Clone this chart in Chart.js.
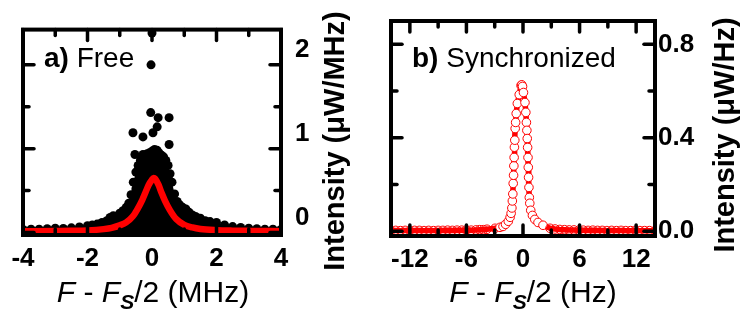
<!DOCTYPE html>
<html><head><meta charset="utf-8">
<script src="https://cdn.jsdelivr.net/npm/chart.js@4.4.1/dist/chart.umd.min.js"></script>
<style>
html,body{margin:0;padding:0;background:#fff;}
#wrap{position:relative;width:742px;height:322px;overflow:hidden;}
#c1{position:absolute;left:0;top:0;}
#c2{position:absolute;left:370px;top:0;}
</style></head>
<body><div id="wrap"><canvas id="c1" width="370" height="322"></canvas><canvas id="c2" width="372" height="322"></canvas></div>
<script>
// ---------- Panel a) Free ----------
const freeSpectrumX = [-4.0,-3.75,-3.5,-3.25,-3.0,-2.75,-2.5,-2.25,-2.0,-1.85,-1.7,-1.55,-1.4,-1.3,-1.2,-1.1,-1.0,-0.9,-0.8,-0.72,-0.65,-0.58,-0.5,-0.43,-0.36,-0.3,-0.22,-0.15,-0.08,0.0,0.08,0.15,0.22,0.3,0.36,0.43,0.5,0.56,0.62,0.7,0.78,0.86,0.95,1.05,1.15,1.25,1.35,1.5,1.65,1.8,2.0,2.25,2.5,2.75,3.0,3.25,3.5,3.75,4.0];
const freeSpectrumY = [0.035,0.04,0.038,0.045,0.05,0.048,0.055,0.065,0.08,0.09,0.1,0.12,0.14,0.18,0.2,0.19,0.23,0.26,0.3,0.35,0.45,0.6,0.72,0.8,0.86,0.9,0.92,0.94,0.95,0.97,0.99,0.97,0.95,0.92,0.9,0.86,0.8,0.7,0.6,0.46,0.37,0.33,0.3,0.28,0.24,0.21,0.19,0.17,0.14,0.13,0.12,0.09,0.07,0.06,0.05,0.045,0.04,0.04,0.035];
const freeOutlierX = [0.0,-0.03,-0.04,0.19,0.53,0.16,0.03,-0.59,-0.28,0.53,0.16,-0.53,-0.28,0.40,-0.43,0.50,-0.50,0.47];
const freeOutlierY = [2.38,2.0,1.43,1.37,1.37,1.26,1.19,1.19,1.14,1.05,0.98,0.93,0.93,0.81,0.74,0.66,0.52,0.52];
const freeFitX = [-4,-3,-2.5,-2,-1.5,-1.25,-1,-0.8,-0.6,-0.45,-0.3,-0.2,-0.1,0,0.05,0.1,0.2,0.3,0.4,0.55,0.75,1,1.25,1.5,2,2.5,3,4];
const freeFitY = [0.015,0.018,0.02,0.025,0.04,0.055,0.085,0.12,0.19,0.28,0.39,0.48,0.57,0.63,0.65,0.64,0.57,0.47,0.38,0.27,0.16,0.09,0.06,0.042,0.028,0.022,0.019,0.015];
const freeXTicks = [-4,-3,-2,-1,0,1,2,3,4];
const freeXLabels = [-4,-2,0,2,4];
const freeYTicks = [0,0.5,1,1.5,2];
const freeYLabels = [0,1,2];

// ---------- Panel b) Synchronized ----------
const syncX = [-14,-13.5,-13,-12.5,-12,-11.5,-11,-10.5,-10,-9.5,-9,-8.5,-8,-7.5,-7,-6.5,-6,-5.5,-5,-4.6,-4.2,-3.82,-2.97,-2.44,-2.12,-1.85,-1.56,-1.37,-1.26,-1.18,-1.13,-1.08,-1.04,-1.0,-0.97,-0.94,-0.91,-0.87,-0.83,-0.78,-0.72,-0.6,-0.4,-0.21,-0.13,-0.05,0.05,0.21,0.3,0.36,0.41,0.45,0.49,0.53,0.56,0.59,0.63,0.67,0.72,0.82,1.0,1.25,1.59,2.12,2.87,3.4,3.9,4.4,4.9,5.4,5.9,6.4,6.9,7.4,7.9,8.4,8.9,9.4,9.9,10.4,10.9,11.4,11.9,12.4,12.9,13.4,14];
const syncY = [0.003,0.004,0.003,0.004,0.003,0.004,0.004,0.003,0.004,0.003,0.004,0.004,0.005,0.004,0.005,0.005,0.006,0.005,0.006,0.007,0.007,0.009,0.013,0.017,0.021,0.03,0.043,0.06,0.077,0.1,0.13,0.16,0.205,0.24,0.28,0.316,0.36,0.39,0.44,0.466,0.504,0.547,0.585,0.624,0.627,0.62,0.594,0.551,0.509,0.466,0.432,0.397,0.359,0.316,0.274,0.231,0.188,0.145,0.12,0.09,0.068,0.051,0.038,0.026,0.013,0.01,0.008,0.007,0.006,0.006,0.005,0.005,0.004,0.005,0.004,0.004,0.003,0.004,0.003,0.004,0.003,0.003,0.004,0.003,0.003,0.003,0.003];
const syncXTicks = [-12,-9,-6,-3,0,3,6,9,12];
const syncXLabels = [-12,-6,0,6,12];
const syncYTicks = [0,0.2,0.4,0.6,0.8];
const syncYLabels = [0,0.4,0.8];

const FONT = "'Liberation Sans', Arial, sans-serif";
const toXY = (xs, ys) => xs.map((x, i) => ({x, y: ys[i]}));

// inward tick marks + frame
const frameTicks = {
  id: 'frameTicks',
  afterDatasetsDraw(chart, args, opts) {
    const {ctx, chartArea: a, scales} = chart;
    ctx.save();
    ctx.strokeStyle = '#000';
    ctx.lineWidth = 3.5;
    ctx.lineCap = 'round';
    const seg = (x1, y1, x2, y2) => { ctx.beginPath(); ctx.moveTo(x1, y1); ctx.lineTo(x2, y2); ctx.stroke(); };
    scales.x.ticks.forEach(t => {
      const p = scales.x.getPixelForValue(t.value);
      const L = opts.xMajor.includes(t.value) ? 11 : 6;
      seg(p, a.top, p, a.top + L); seg(p, a.bottom, p, a.bottom - L);
    });
    scales.y.ticks.forEach(t => {
      const p = scales.y.getPixelForValue(t.value);
      const L = opts.yMajor.includes(t.value) ? 11 : 6;
      seg(a.left, p, a.left + L, p); seg(a.right, p, a.right - L, p);
    });
    ctx.lineWidth = 4;
    ctx.lineCap = 'butt';
    ctx.strokeRect(a.left, a.top, a.right - a.left, a.bottom - a.top);
    ctx.restore();
  }
};

// titles / annotations with mixed styles
function drawRuns(ctx, runs, cx, base) {
  let total = 0;
  runs.forEach(r => { ctx.font = r.f; r.w = ctx.measureText(r.t).width; total += r.w; });
  let x = cx - total / 2;
  ctx.textAlign = 'left'; ctx.textBaseline = 'alphabetic';
  runs.forEach(r => { ctx.font = r.f; ctx.fillText(r.t, x, base + (r.dy || 0)); x += r.w; });
}
function drawLeftRuns(ctx, runs, x, base) {
  ctx.textAlign = 'left'; ctx.textBaseline = 'alphabetic';
  runs.forEach(r => { ctx.font = r.f; ctx.fillText(r.t, x, base); x += ctx.measureText(r.t).width; });
}
const textPlugin = {
  id: 'texts',
  afterDraw(chart, args, o) {
    const ctx = chart.ctx;
    ctx.save();
    ctx.fillStyle = '#000';
    const it = 'italic 30px ' + FONT, rg = '30px ' + FONT, sb = 'italic bold 21px ' + FONT;
    drawRuns(ctx, [{t: 'F', f: it}, {t: ' - ', f: rg}, {t: 'F', f: it}, {t: 'S', f: sb, dy: 7}, {t: '/2 (' + o.unit + ')', f: rg}], o.xtX, o.xtY);
    drawLeftRuns(ctx, [{t: o.tag, f: 'bold 28px ' + FONT}, {t: ' ' + o.name, f: '28px ' + FONT}], o.tagX, o.tagY);
    ctx.translate(o.ytX, o.ytY);
    ctx.rotate(-Math.PI / 2);
    ctx.font = 'bold 29px ' + FONT;
    ctx.textAlign = 'center'; ctx.textBaseline = 'alphabetic';
    ctx.fillText('Intensity (\u03bcW/' + o.unit + ')', 0, 0);
    ctx.restore();
  }
};

function makeScales(cfg) {
  const tickFont = {family: FONT, size: 26, weight: 'bold'};
  return {
    x: {
      type: 'linear', position: 'bottom', min: cfg.xmin, max: cfg.xmax,
      grid: {display: false, drawTicks: false}, border: {display: false},
      afterBuildTicks: s => { s.ticks = cfg.xTicks.map(v => ({value: v})); },
      afterFit: s => { s.height = cfg.xh; },
      ticks: {color: '#000', font: tickFont, padding: 8, autoSkip: false, maxRotation: 0,
        callback: v => cfg.xLabels.includes(v) ? String(v) : ''}
    },
    y: {
      type: 'linear', position: 'right', min: cfg.ymin, max: cfg.ymax,
      grid: {display: false, drawTicks: false}, border: {display: false},
      afterBuildTicks: s => { s.ticks = cfg.yTicks.map(v => ({value: v})); },
      afterFit: s => { s.width = cfg.yw; },
      ticks: {color: '#000', font: tickFont, padding: cfg.ypad, autoSkip: false, labelOffset: cfg.yoff,
        callback: v => cfg.yLabels.includes(v) ? cfg.fmt(v) : ''}
    }
  };
}

new Chart(document.getElementById('c1'), {
  type: 'line',
  data: {datasets: [
    {data: toXY(freeSpectrumX, freeSpectrumY), order: 3, borderWidth: 0, borderColor: '#000', backgroundColor: '#000',
     fill: 'start', pointRadius: 4.5, pointBorderWidth: 0, pointBackgroundColor: '#000', tension: 0, clip: 0},
    {data: toXY(freeOutlierX, freeOutlierY), order: 2, showLine: false, pointRadius: 4.5, pointBorderWidth: 0,
     pointBackgroundColor: '#000', borderColor: '#000', clip: false},
    {data: toXY(freeFitX, freeFitY), order: 1, borderColor: '#ff0000', borderWidth: 6.5, pointRadius: 0,
     borderJoinStyle: 'round', cubicInterpolationMode: 'monotone', fill: false, clip: 0}
  ]},
  options: {
    responsive: false, animation: false, events: [],
    layout: {padding: {left: 23, top: 22, right: 0, bottom: 0}},
    plugins: {legend: {display: false}, tooltip: {enabled: false},
      frameTicks: {xMajor: freeXLabels, yMajor: freeYLabels},
      texts: {unit: 'MHz', xtX: 153, xtY: 302, tag: 'a)', name: 'Free', tagX: 44, tagY: 67, ytX: 344, ytY: 141}},
    scales: makeScales({xmin: -4, xmax: 4, ymin: -0.03, ymax: 2.42, xTicks: freeXTicks, xLabels: freeXLabels,
      yTicks: freeYTicks, yLabels: freeYLabels, xh: 87, yw: 89, ypad: 14, yoff: -15, fmt: v => String(v)})
  },
  plugins: [frameTicks, textPlugin]
});

new Chart(document.getElementById('c2'), {
  type: 'line',
  data: {datasets: [
    {data: toXY(syncX, syncY), borderColor: '#ff0000', borderWidth: 5.5, tension: 0, fill: false, borderJoinStyle: 'round',
     pointRadius: 4.3, pointBorderWidth: 1, pointBorderColor: '#ff0000',
     pointBackgroundColor: c => (c.raw && c.raw.y > 0.015) ? '#ffffff' : 'rgba(255,255,255,0)', clip: 0}
  ]},
  options: {
    responsive: false, animation: false, events: [],
    layout: {padding: {left: 21, top: 21, right: 0, bottom: 0}},
    plugins: {legend: {display: false}, tooltip: {enabled: false},
      frameTicks: {xMajor: syncXLabels, yMajor: syncYLabels},
      texts: {unit: 'Hz', xtX: 163, xtY: 302, tag: 'b)', name: 'Synchronized', tagX: 42, tagY: 67, ytX: 364, ytY: 135}},
    scales: makeScales({xmin: -14, xmax: 14, ymin: -0.02, ymax: 0.9, xTicks: syncXTicks, xLabels: syncXLabels,
      yTicks: syncYTicks, yLabels: syncYLabels, xh: 86, yw: 87, ypad: 3, yoff: 0, fmt: v => v.toFixed(1)})
  },
  plugins: [frameTicks, textPlugin]
});
</script></body></html>
